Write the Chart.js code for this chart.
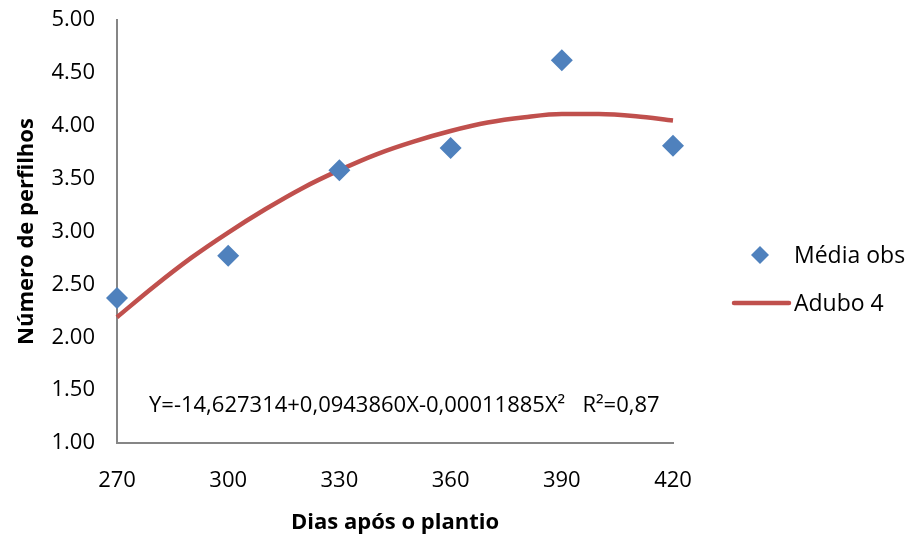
<!DOCTYPE html>
<html>
<head>
<meta charset="utf-8">
<script src="https://cdn.jsdelivr.net/npm/chart.js@4.4.1/dist/chart.umd.min.js"></script>
<style>
  html, body { margin: 0; padding: 0; background: #fff; }
</style>
</head>
<body>
<canvas id="chart" width="917" height="536"></canvas>
<script>
// observed means (Dias após o plantio -> Número de perfilhos)
const obsDays = [270, 300, 330, 360, 390, 420];
const obsValues = [2.37, 2.77, 3.58, 3.79, 4.62, 3.81];

// fitted curve "Adubo 4"
const fitDays = [270, 280, 290, 300, 310, 320, 330, 340, 350, 360, 370, 380, 390, 400, 410, 420];
const fitValues = [2.19, 2.48, 2.75, 2.99, 3.21, 3.41, 3.58, 3.73, 3.85, 3.95, 4.03, 4.08, 4.11, 4.11, 4.09, 4.05];

const yTicks = [1.00, 1.50, 2.00, 2.50, 3.00, 3.50, 4.00, 4.50, 5.00];
const xTicks = [270, 300, 330, 360, 390, 420];

const equationText = 'Y=-14,627314+0,0943860X-0,00011885X²   R²=0,87';
const seriesNames = ['Média obs', 'Adubo 4'];

const FONT = '"Open Sans", "Noto Sans", sans-serif';
const BLUE = '#4F81BD';
const RED = '#C0504D';
const AXIS = '#868686';

// equation text + legend drawn on top
const extrasPlugin = {
    id: 'extras',
    afterDraw(chart) {
        const ctx = chart.ctx;
        ctx.save();
        ctx.fillStyle = '#000';
        ctx.font = '22px ' + FONT;
        ctx.textBaseline = 'middle';
        ctx.textAlign = 'left';
        ctx.fillText(equationText, 149, 406);

        // legend
        ctx.fillStyle = BLUE;
        ctx.beginPath();
        ctx.moveTo(760, 246); ctx.lineTo(769, 255); ctx.lineTo(760, 264); ctx.lineTo(751, 255);
        ctx.closePath();
        ctx.fill();
        ctx.strokeStyle = RED;
        ctx.lineWidth = 4.5;
        ctx.lineCap = 'round';
        ctx.beginPath();
        ctx.moveTo(734, 303); ctx.lineTo(789, 303);
        ctx.stroke();
        ctx.fillStyle = '#000';
        ctx.font = '23px ' + FONT;
        ctx.fillText(seriesNames[0], 794, 256);
        ctx.fillText(seriesNames[1], 794, 304);
        ctx.restore();
    }
};

const ctx = document.getElementById('chart').getContext('2d');
new Chart(ctx, {
    type: 'scatter',
    data: {
        datasets: [{
            label: seriesNames[0],
            data: obsDays.map((d, i) => ({ x: d, y: obsValues[i] })),
            pointStyle: 'rectRot',
            pointRadius: 11,
            pointHoverRadius: 11,
            backgroundColor: BLUE,
            borderColor: BLUE,
            borderWidth: 0,
            clip: false,
            order: 0
        }, {
            label: seriesNames[1],
            type: 'line',
            data: fitDays.map((d, i) => ({ x: d, y: fitValues[i] })),
            borderColor: RED,
            borderWidth: 4.5,
            pointRadius: 0,
            cubicInterpolationMode: 'monotone',
            fill: false,
            clip: false,
            order: 1
        }]
    },
    options: {
        responsive: false,
        animation: false,
        devicePixelRatio: 1,
        layout: { padding: { left: 14, top: 20, right: 244, bottom: 0 } },
        plugins: {
            legend: { display: false },
            tooltip: { enabled: false }
        },
        scales: {
            x: {
                type: 'linear',
                min: 270,
                max: 420,
                afterBuildTicks: (s) => { s.ticks = xTicks.map(v => ({ value: v })); },
                afterFit: (s) => { s.height = 93; s.paddingLeft = 0; s.paddingRight = 0; },
                grid: { display: false, drawTicks: false },
                border: { color: AXIS, width: 2 },
                ticks: {
                    color: '#000',
                    font: { family: FONT, size: 22 },
                    padding: 25,
                    maxRotation: 0,
                    callback: (v) => String(v)
                },
                title: {
                    display: true,
                    text: 'Dias após o plantio',
                    color: '#000',
                    font: { family: FONT, size: 22, weight: 'bold' },
                    padding: { top: 6, bottom: 0 }
                }
            },
            y: {
                min: 1,
                max: 5,
                afterBuildTicks: (s) => { s.ticks = yTicks.map(v => ({ value: v })); },
                afterFit: (s) => { s.width = 103; s.paddingTop = 0; s.paddingBottom = 0; },
                grid: { display: false, drawTicks: false },
                border: { color: AXIS, width: 2 },
                ticks: {
                    color: '#000',
                    font: { family: FONT, size: 22 },
                    padding: 22,
                    callback: (v) => v.toFixed(2)
                },
                title: {
                    display: true,
                    text: 'Número de perfilhos',
                    color: '#000',
                    font: { family: FONT, size: 22, weight: 'bold' },
                    padding: { top: 0, bottom: 0 }
                }
            }
        }
    },
    plugins: [extrasPlugin]
});
</script>
</body>
</html>
